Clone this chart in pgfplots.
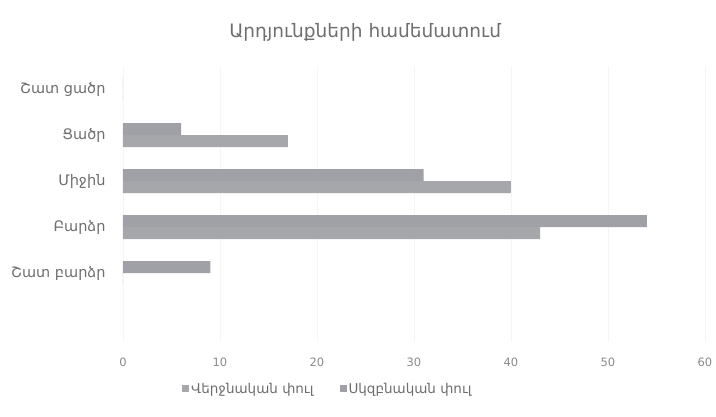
\documentclass[border=0pt]{standalone}
\usepackage{fontspec}
\setmainfont{DejaVu Sans}
\usepackage{pgfplots}
\pgfplotsset{compat=1.18}
\definecolor{barA}{HTML}{A5A7AB}
\definecolor{barB}{HTML}{9FA1A6}
\definecolor{txt}{HTML}{6E6E6E}
\definecolor{tck}{HTML}{8A8A8A}
\begin{document}
\begin{tikzpicture}[x=1pt,y=1pt]
\useasboundingbox (0,0) rectangle (716,416);
\begin{axis}[
  at={(123pt,74pt)}, anchor=south west,
  scale only axis, width=582pt, height=276pt,
  xbar, bar width=12pt,
  xmin=0, xmax=60, ymin=-1.5, ymax=4.5,
  xtick={0,10,...,60},
  ytick={0,1,2,3,4},
  yticklabels={Շատ բարձր,Բարձր,Միջին,Ցածր,Շատ ցածր},
  axis line style={draw=none},
  major tick length=0pt,
  xmajorgrids, major grid style={draw=black!4},
  /pgf/number format/assume math mode=true,
  xticklabel style={font=\fontsize{11.5}{13}\selectfont, text=tck, yshift=-12pt},
  yticklabel style={font=\fontsize{14.5}{16}\selectfont, text=txt, xshift=-14pt},
  title={Արդյունքների համեմատում},
  title style={font=\fontsize{18.5}{20}\selectfont, text=txt, at={(0.416,1.10)}, anchor=center},
  legend columns=2,
  legend style={draw=none, at={(0.352,-0.172)}, anchor=center, font=\fontsize{13.5}{15}\selectfont, text=txt, /tikz/every even column/.append style={column sep=24pt}},
  legend image code/.code={\fill[#1] (0pt,-3pt) rectangle (7pt,4pt);},
]
\addplot[draw=none, fill=barA, bar shift=-6pt] coordinates {(0,4) (17,3) (40,2) (43,1) (0,0)};
\addlegendentry{Վերջնական փուլ}
\addplot[draw=none, fill=barB, bar shift=6pt] coordinates {(0,4) (6,3) (31,2) (54,1) (9,0)};
\addlegendentry{Սկզբնական փուլ}
\end{axis}
\end{tikzpicture}
\end{document}
